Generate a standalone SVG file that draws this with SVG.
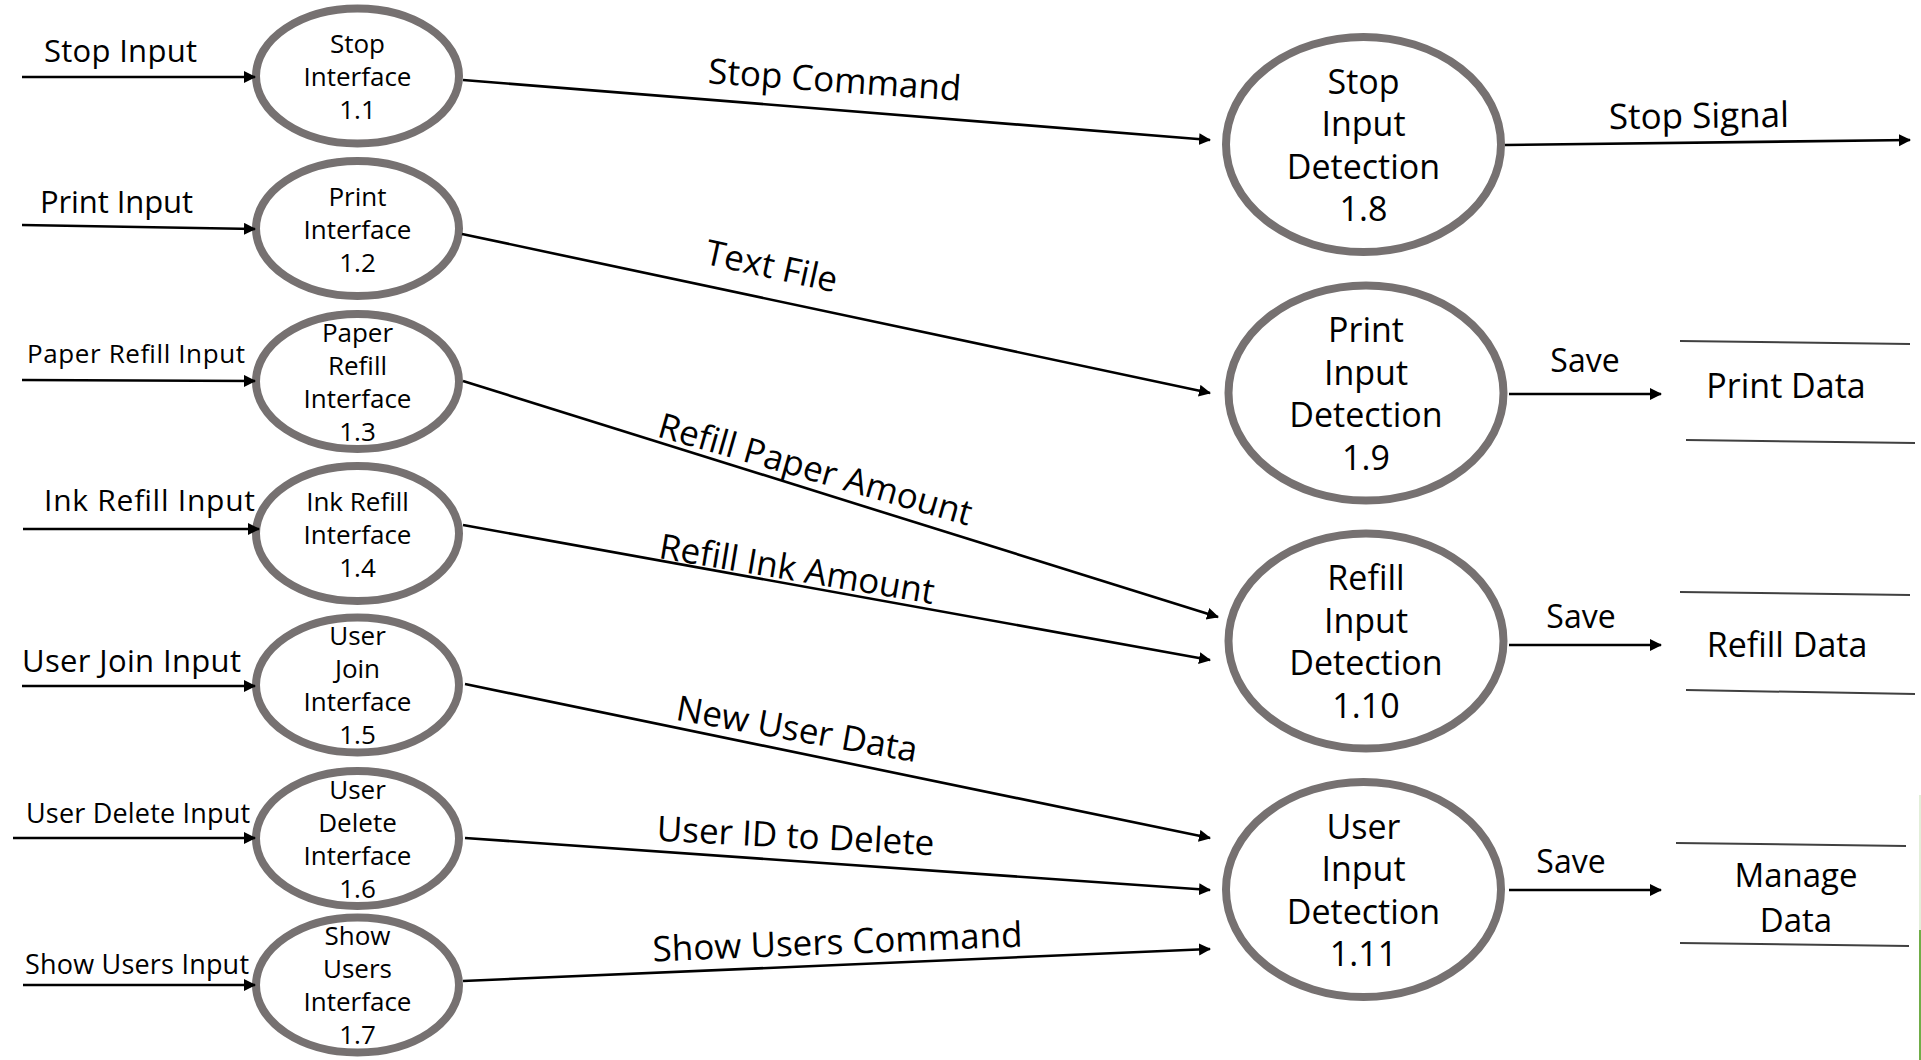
<svg xmlns="http://www.w3.org/2000/svg" width="1921" height="1060" viewBox="0 0 1921 1060">
<defs>
<marker id="arr" markerUnits="userSpaceOnUse" markerWidth="14" markerHeight="14" refX="11" refY="6" orient="auto"><path d="M0,0 L12,6 L0,12 z" fill="#000"/></marker>
</defs>
<style>
.proc { fill:#fff; stroke:#767171; stroke-width:8; }
.t { font-family:"Open Sans","Noto Sans",sans-serif; fill:#000; }
.n26 { font-size:26px; text-anchor:middle; }
.n34 { font-size:34px; text-anchor:middle; }
.lbl { font-size:35px; text-anchor:middle; }
.in { font-size:31px; }
.save { font-size:32px; text-anchor:middle; }
.flow { stroke:#000; stroke-width:2.6; fill:none; marker-end:url(#arr); }
.store { stroke:#404040; stroke-width:2; }
</style>
<rect width="1921" height="1060" fill="#fff"/>

<g id="p1_1"><ellipse class="proc" cx="357.5" cy="76" rx="101.5" ry="67.5"/>
<text class="t n26"><tspan x="357.5" y="53">Stop</tspan><tspan x="357.5" dy="33">Interface</tspan><tspan x="357.5" dy="33">1.1</tspan></text></g>
<g id="p1_2"><ellipse class="proc" cx="357.5" cy="228.5" rx="101.5" ry="67.5"/>
<text class="t n26"><tspan x="357.5" y="205.5">Print</tspan><tspan x="357.5" dy="33">Interface</tspan><tspan x="357.5" dy="33">1.2</tspan></text></g>
<g id="p1_3"><ellipse class="proc" cx="357.5" cy="381.5" rx="101.5" ry="67.5"/>
<text class="t n26"><tspan x="357.5" y="341.5">Paper</tspan><tspan x="357.5" dy="33">Refill</tspan><tspan x="357.5" dy="33">Interface</tspan><tspan x="357.5" dy="33">1.3</tspan></text></g>
<g id="p1_4"><ellipse class="proc" cx="357.5" cy="533.5" rx="101.5" ry="67.5"/>
<text class="t n26"><tspan x="357.5" y="510.5">Ink Refill</tspan><tspan x="357.5" dy="33">Interface</tspan><tspan x="357.5" dy="33">1.4</tspan></text></g>
<g id="p1_5"><ellipse class="proc" cx="357.5" cy="685" rx="101.5" ry="67.5"/>
<text class="t n26"><tspan x="357.5" y="645">User</tspan><tspan x="357.5" dy="33">Join</tspan><tspan x="357.5" dy="33">Interface</tspan><tspan x="357.5" dy="33">1.5</tspan></text></g>
<g id="p1_6"><ellipse class="proc" cx="357.5" cy="838.5" rx="101.5" ry="67.5"/>
<text class="t n26"><tspan x="357.5" y="798.5">User</tspan><tspan x="357.5" dy="33">Delete</tspan><tspan x="357.5" dy="33">Interface</tspan><tspan x="357.5" dy="33">1.6</tspan></text></g>
<g id="p1_7"><ellipse class="proc" cx="357.5" cy="985" rx="101.5" ry="67.5"/>
<text class="t n26"><tspan x="357.5" y="945">Show</tspan><tspan x="357.5" dy="33">Users</tspan><tspan x="357.5" dy="33">Interface</tspan><tspan x="357.5" dy="33">1.7</tspan></text></g>

<g id="p1_8"><ellipse class="proc" cx="1363.5" cy="144.5" rx="137.5" ry="107.5"/>
<text class="t n34"><tspan x="1363.5" y="93.5">Stop</tspan><tspan x="1363.5" dy="42.5">Input</tspan><tspan x="1363.5" dy="42.5">Detection</tspan><tspan x="1363.5" dy="42.5">1.8</tspan></text></g>
<g id="p1_9"><ellipse class="proc" cx="1366" cy="393" rx="137.5" ry="107.5"/>
<text class="t n34"><tspan x="1366" y="342">Print</tspan><tspan x="1366" dy="42.5">Input</tspan><tspan x="1366" dy="42.5">Detection</tspan><tspan x="1366" dy="42.5">1.9</tspan></text></g>
<g id="p1_10"><ellipse class="proc" cx="1366" cy="641" rx="137.5" ry="107.5"/>
<text class="t n34"><tspan x="1366" y="590">Refill</tspan><tspan x="1366" dy="42.5">Input</tspan><tspan x="1366" dy="42.5">Detection</tspan><tspan x="1366" dy="42.5">1.10</tspan></text></g>
<g id="p1_11"><ellipse class="proc" cx="1363.5" cy="889.5" rx="137.5" ry="107.5"/>
<text class="t n34"><tspan x="1363.5" y="838.5">User</tspan><tspan x="1363.5" dy="42.5">Input</tspan><tspan x="1363.5" dy="42.5">Detection</tspan><tspan x="1363.5" dy="42.5">1.11</tspan></text></g>

<g id="store_print"><line class="store" x1="1680" y1="341" x2="1910" y2="344"/><line class="store" x1="1686" y1="440" x2="1915" y2="443"/>
<text class="t" style="font-size:34px;text-anchor:middle" x="1786" y="398">Print Data</text></g>
<g id="store_refill"><line class="store" x1="1680" y1="592" x2="1910" y2="595"/><line class="store" x1="1686" y1="690" x2="1915" y2="694"/>
<text class="t" style="font-size:34px;text-anchor:middle" x="1787" y="657">Refill Data</text></g>
<g id="store_manage"><line class="store" x1="1676" y1="843" x2="1906" y2="846"/><line class="store" x1="1680" y1="943" x2="1909" y2="946"/>
<text class="t" style="font-size:33px;text-anchor:middle"><tspan x="1796" y="887">Manage</tspan><tspan x="1796" y="932">Data</tspan></text></g>

<g id="connectors">
<path class="flow" d="M22,77 L255,77"/>
<path class="flow" d="M22,225 L255,229"/>
<path class="flow" d="M22,380 L255,381"/>
<path class="flow" d="M23,529 L259,529"/>
<path class="flow" d="M22,686 L255,686"/>
<path class="flow" d="M13,838 L255,838"/>
<path class="flow" d="M23,985 L255,985"/>
<path class="flow" d="M463,80 L1210,140"/>
<path class="flow" d="M462,234 L1210,393"/>
<path class="flow" d="M463,381 L1218,617"/>
<path class="flow" d="M463,525 L1210,660"/>
<path class="flow" d="M465,684 L1210,838"/>
<path class="flow" d="M465,838 L1210,890"/>
<path class="flow" d="M463,981 L1210,949"/>
<path class="flow" d="M1505,145 L1910,140"/>
<path class="flow" d="M1509,394 L1661,394"/>
<path class="flow" d="M1509,645 L1661,645"/>
<path class="flow" d="M1509,890 L1661,890"/>
<g class="t">
<text class="in" x="44" y="62" textLength="153">Stop Input</text>
<text class="in" x="40" y="213" textLength="153">Print Input</text>
<text style="font-size:26px" x="27" y="363" textLength="218">Paper Refill Input</text>
<text style="font-size:30px" x="44" y="511" textLength="211">Ink Refill Input</text>
<text class="in" x="22" y="672" textLength="219">User Join Input</text>
<text style="font-size:27px" x="26" y="823" textLength="224">User Delete Input</text>
<text style="font-size:27px" x="25" y="974" textLength="224">Show Users Input</text>
<text class="lbl" transform="translate(834,92) rotate(4)">Stop Command</text>
<text class="lbl" transform="translate(769,278) rotate(12.5)">Text File</text>
<text class="lbl" transform="translate(812,481) rotate(16)">Refill Paper Amount</text>
<text class="lbl" transform="translate(795,581) rotate(9.5)">Refill Ink Amount</text>
<text class="lbl" transform="translate(795,741) rotate(10)">New User Data</text>
<text class="lbl" transform="translate(795,848) rotate(3)">User ID to Delete</text>
<text class="lbl" transform="translate(838,954) rotate(-2.3)">Show Users Command</text>
<text class="lbl" transform="translate(1699,128) rotate(-0.7)">Stop Signal</text>
<text class="save" x="1585" y="372">Save</text>
<text class="save" x="1581" y="628">Save</text>
<text class="save" x="1571" y="873">Save</text>
</g>
</g>
<rect x="1919" y="795" width="2" height="135" fill="#e2efd9"/>
<rect x="1919" y="930" width="2" height="130" fill="#70ad47"/>
</svg>
